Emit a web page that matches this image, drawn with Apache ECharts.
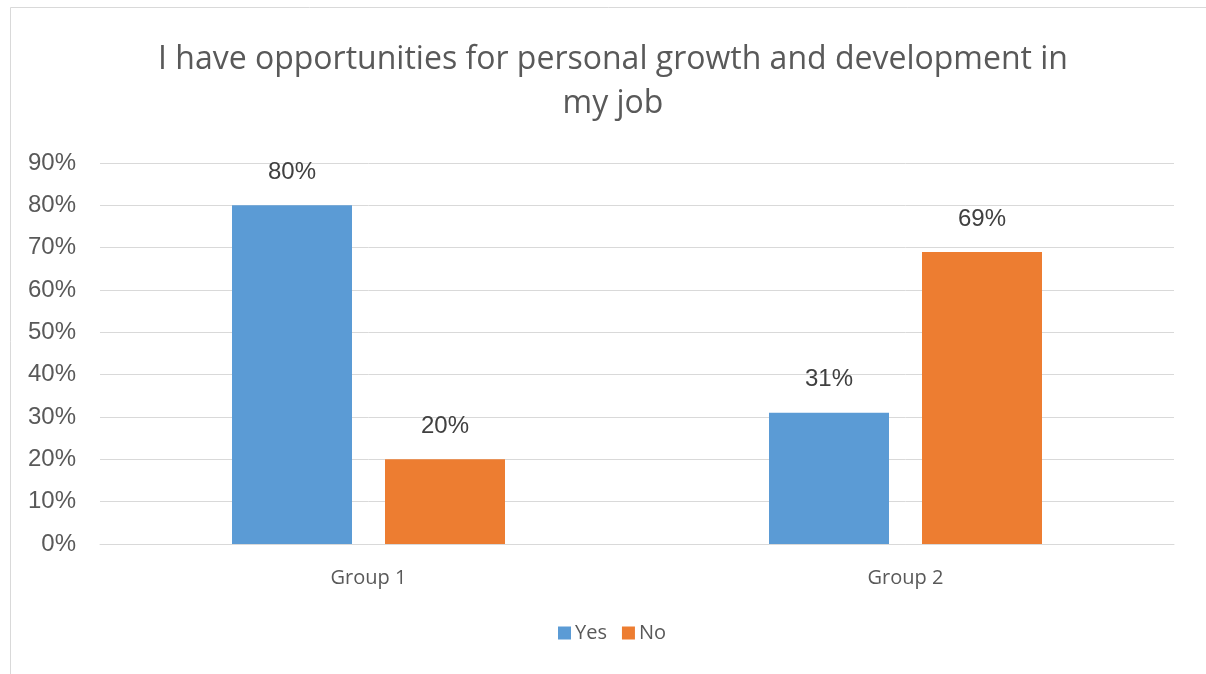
<!DOCTYPE html>
<html>
<head>
<meta charset="utf-8">
<script src="https://cdn.jsdelivr.net/npm/echarts@6/dist/echarts.min.js"></script>
<style>
  html, body { margin: 0; padding: 0; background: #ffffff; }
  #chart { width: 1206px; height: 674px; }
</style>
</head>
<body>
<div id="chart"></div>
<script>
// Survey responses per group, as percentages
const categories = ['Group 1', 'Group 2'];
const yesValues = [80, 31];
const noValues = [20, 69];
const seriesNames = ['Yes', 'No'];
const chartTitle = 'I have opportunities for personal growth and development in\nmy job';

const chart = echarts.init(document.getElementById('chart'));

const labelStyle = {
  show: true,
  position: 'top',
  distance: 21,
  formatter: p => p.value + '%',
  color: '#404040',
  fontFamily: 'Liberation Sans, Arial, sans-serif',
  fontSize: 24
};

chart.setOption({
  animation: false,
  backgroundColor: '#ffffff',
  graphic: [{
    type: 'rect',
    shape: { x: 10.5, y: 7.5, width: 1220, height: 700 },
    style: { fill: 'none', stroke: '#d9d9d9', lineWidth: 1 },
    silent: true
  }],
  title: {
    text: chartTitle,
    left: 608,
    top: 33,
    textAlign: 'center',
    textStyle: {
      color: '#595959',
      fontFamily: 'Open Sans, sans-serif',
      fontWeight: 'normal',
      fontSize: 32,
      lineHeight: 44
    }
  },
  legend: {
    data: seriesNames,
    top: 618,
    left: 553,
    itemWidth: 13,
    itemHeight: 13,
    itemGap: 15,
    icon: 'rect',
    textStyle: {
      color: '#595959',
      fontFamily: 'Open Sans, sans-serif',
      fontSize: 20,
      padding: [0, 0, 0, -1]
    }
  },
  grid: { left: 100, right: 32, top: 163, bottom: 130 },
  xAxis: {
    type: 'category',
    data: categories,
    axisLine: { lineStyle: { color: '#d9d9d9', width: 1 } },
    axisTick: { show: false },
    axisLabel: {
      color: '#595959',
      fontFamily: 'Open Sans, sans-serif',
      fontSize: 20,
      margin: 24
    }
  },
  yAxis: {
    type: 'value',
    min: 0,
    max: 90,
    interval: 10,
    axisLine: { show: false },
    axisTick: { show: false },
    splitLine: { lineStyle: { color: '#d9d9d9', width: 1 } },
    axisLabel: {
      formatter: v => v + '%',
      color: '#595959',
      fontFamily: 'Liberation Sans, Arial, sans-serif',
      fontSize: 24,
      margin: 24
    }
  },
  series: [
    {
      name: seriesNames[0],
      type: 'bar',
      data: yesValues,
      barWidth: 120,
      barGap: '27.5%',
      itemStyle: { color: '#5b9bd5' },
      label: labelStyle
    },
    {
      name: seriesNames[1],
      type: 'bar',
      data: noValues,
      barWidth: 120,
      barGap: '27.5%',
      itemStyle: { color: '#ed7d31' },
      label: labelStyle
    }
  ]
});
</script>
</body>
</html>
